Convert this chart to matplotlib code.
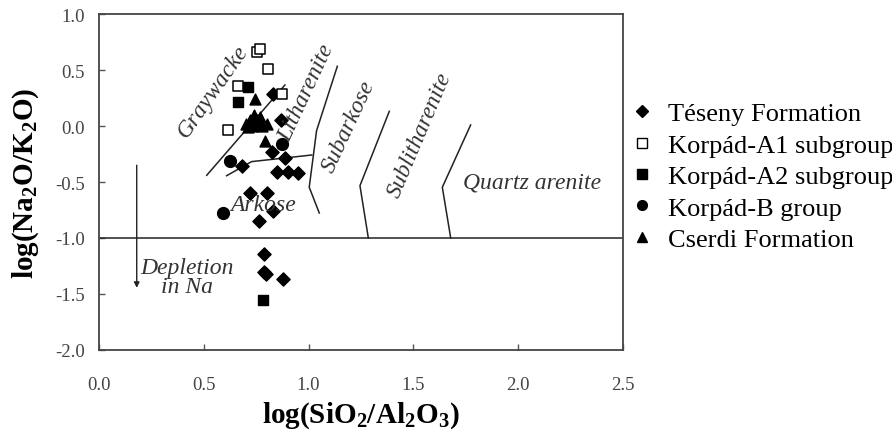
import matplotlib
matplotlib.use("Agg")
import matplotlib.pyplot as plt
from matplotlib.lines import Line2D

plt.rcParams['font.family'] = ['Liberation Serif', 'DejaVu Serif']
plt.rcParams['mathtext.fontset'] = 'custom'
plt.rcParams['mathtext.rm'] = 'Liberation Serif'
plt.rcParams['mathtext.bf'] = 'Liberation Serif:bold'
plt.rcParams['mathtext.it'] = 'Liberation Serif:italic'

# ---- data ----
teseny_x = [0.832, 0.868, 0.824, 0.887, 0.681, 0.848, 0.903, 0.951, 0.720, 0.803, 0.832, 0.763, 0.789, 0.795, 0.785, 0.879]
teseny_y = [0.286, 0.056, -0.235, -0.286, -0.354, -0.414, -0.414, -0.420, -0.598, -0.598, -0.756, -0.845, -1.143, -1.320, -1.300, -1.366]

a1_x = [0.752, 0.768, 0.808, 0.665, 0.875, 0.617]
a1_y = [0.658, 0.688, 0.509, 0.360, 0.286, -0.033]

a2_x = [0.712, 0.665, 0.784]
a2_y = [0.345, 0.210, -1.550]

b_x = [0.625, 0.871, 0.593]
b_y = [-0.315, -0.160, -0.777]

cserdi_x = [0.700, 0.720, 0.740, 0.760, 0.780, 0.730, 0.750, 0.800, 0.744, 0.792, 0.710, 0.770]
cserdi_y = [0.020, 0.050, 0.100, 0.030, 0.000, 0.000, 0.060, 0.020, 0.240, -0.130, -0.010, 0.080]

# classification boundaries
b1_x = [0.514, 0.887]
b1_y = [-0.44, 0.366]
b2_x = [0.609, 0.728, 1.015]
b2_y = [-0.444, -0.318, -0.259]
b3_x = [1.137, 1.038, 1.003, 1.051]
b3_y = [0.533, -0.042, -0.547, -0.777]
b4_x = [1.385, 1.245, 1.285]
b4_y = [0.131, -0.533, -1.0]
b5_x = [1.773, 1.638, 1.678]
b5_y = [0.009, -0.547, -1.0]
depl_x = [0.0, 2.5]
depl_y = [-1.0, -1.0]

x_ticks = [0.0, 0.5, 1.0, 1.5, 2.0, 2.5]
y_ticks = [-2.0, -1.5, -1.0, -0.5, 0.0, 0.5, 1.0]

fig = plt.figure(figsize=(8.92, 4.35), dpi=100)
ax = fig.add_axes([99/892, 84/435, 524/892, 336/435])

lc = '#222222'
for bx, by in [(b1_x, b1_y), (b2_x, b2_y), (b3_x, b3_y), (b4_x, b4_y), (b5_x, b5_y), (depl_x, depl_y)]:
    ax.plot(bx, by, color=lc, lw=1.1, zorder=2)

ax.annotate('', xy=(0.18, -1.47), xytext=(0.18, -0.325),
            arrowprops=dict(arrowstyle='-|>', color=lc, lw=1.0, mutation_scale=8))

ms = 7.5
ax.scatter(teseny_x, teseny_y, marker='D', s=ms**2*0.8, color='black', zorder=3, label='Téseny Formation')
ax.scatter(a1_x, a1_y, marker='s', s=ms**2, facecolor='white', edgecolor='black', linewidth=1.1, zorder=4, label='Korpád-A1 subgroup')
ax.scatter(a2_x, a2_y, marker='s', s=ms**2, color='black', zorder=3, label='Korpád-A2 subgroup')
ax.scatter(b_x, b_y, marker='o', s=(ms+1)**2, color='black', zorder=3, label='Korpád-B group')
ax.scatter(cserdi_x, cserdi_y, marker='^', s=ms**2*1.1, color='black', zorder=3, label='Cserdi Formation')

tc = '#333333'
tfs = 17
ax.text(0.545, 0.315, 'Graywacke', rotation=55, ha='center', va='center', style='italic', fontsize=tfs, color=tc)
ax.text(0.99, 0.30, 'Litharenite', rotation=65, ha='center', va='center', style='italic', fontsize=tfs, color=tc)
ax.text(1.19, 0.003, 'Subarkose', rotation=65, ha='center', va='center', style='italic', fontsize=tfs, color=tc)
ax.text(1.53, -0.07, 'Sublitharenite', rotation=67, ha='center', va='center', style='italic', fontsize=tfs, color=tc)
ax.text(2.064, -0.50, 'Quartz arenite', ha='center', va='center', style='italic', fontsize=tfs, color=tc)
ax.text(0.784, -0.70, 'Arkose', ha='center', va='center', style='italic', fontsize=tfs, color=tc)
ax.text(0.418, -1.35, 'Depletion\nin Na', ha='center', va='center', style='italic', fontsize=tfs, color=tc, linespacing=0.85)

ax.set_xlim(0, 2.5)
ax.set_ylim(-2.0, 1.0)
ax.set_xticks(x_ticks)
ax.set_yticks(y_ticks)
ax.set_xticklabels([f'{v:.1f}' for v in x_ticks])
ax.set_yticklabels([f'{v:.1f}' for v in y_ticks])
ax.tick_params(direction='in', length=4, width=1, colors='#555555', labelcolor='#444444', labelsize=13.5)
ax.tick_params(axis='x', pad=19)
ax.tick_params(axis='y', pad=10)
for sp in ax.spines.values():
    sp.set_color('#444444')
    sp.set_linewidth(1.3)

ax.set_xlabel(r'log(SiO$_\mathbf{2}$/Al$_\mathbf{2}$O$_\mathbf{3}$)', fontsize=21, fontweight='bold', labelpad=4)
ax.set_ylabel(r'log(Na$_\mathbf{2}$O/K$_\mathbf{2}$O)', fontsize=21, fontweight='bold', labelpad=10)

handles = [
    Line2D([], [], marker='D', color='black', ls='none', markersize=6),
    Line2D([], [], marker='s', markerfacecolor='white', markeredgecolor='black', ls='none', markersize=7),
    Line2D([], [], marker='s', color='black', ls='none', markersize=7),
    Line2D([], [], marker='o', color='black', ls='none', markersize=7),
    Line2D([], [], marker='^', color='black', ls='none', markersize=7),
]
labels = ['Téseny Formation', 'Korpád-A1 subgroup', 'Korpád-A2 subgroup', 'Korpád-B group', 'Cserdi Formation']
fig.legend(handles, labels, loc='upper left', bbox_to_anchor=(631/892, 1 - 103/435),
           frameon=False, fontsize=19, handlelength=0.8, handletextpad=0.6,
           labelspacing=0.3, borderaxespad=0, borderpad=0)

fig.savefig('out.png', dpi=100)
